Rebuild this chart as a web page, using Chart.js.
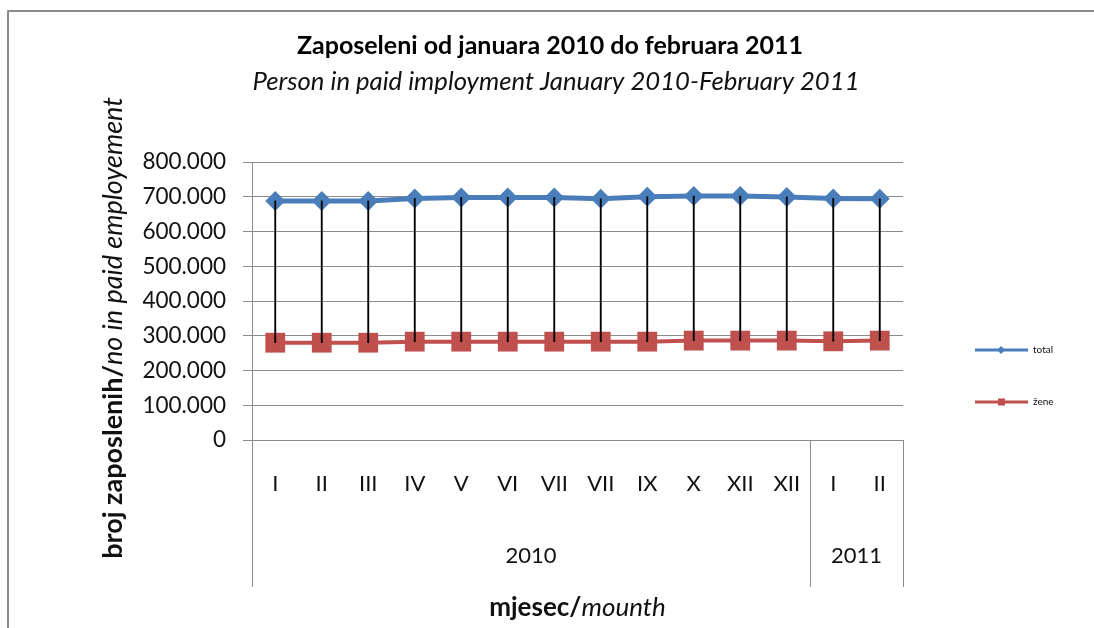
<!DOCTYPE html>
<html>
<head>
<meta charset="utf-8">
<script src="https://cdn.jsdelivr.net/npm/chart.js@4.4.0/dist/chart.umd.min.js"></script>
<style>
html, body { margin: 0; padding: 0; background: #fff; }
</style>
</head>
<body>
<canvas id="employ-chart" width="1094" height="628"></canvas>
<script>
var months = ['I', 'II', 'III', 'IV', 'V', 'VI', 'VII', 'VII', 'IX', 'X', 'XII', 'XII', 'I', 'II'];
var years = ['2010', '2011'];
var yearSpans = [12, 2];

var totalCnt = [688000, 688000, 688000, 695000, 698000, 698000, 698000, 694000, 700000, 702000, 702000, 699000, 695000, 694000];
var zeneCnt = [280000, 280000, 280000, 283000, 283000, 283000, 283000, 283000, 283000, 286000, 286000, 286000, 284000, 286000];

var seriesNames = ['total', 'žene'];
var yMax = 800000;
var yStep = 100000;

var titleText = 'Zaposeleni od januara 2010 do februara 2011';
var subtitleText = 'Person in paid imployment January 2010-February 2011';

var fontFace = 'Lato, "Open Sans", sans-serif';
var gridGray = '#8c8c8c';
var blue = '#4a7ebb';
var red = '#c0504d';

Chart.defaults.font.family = fontFace;
Chart.defaults.color = '#111';

// high-low lines between the two series
var hiLow = totalCnt.map(function(t, i) { return [zeneCnt[i], t]; });

var extraDraw = {
	id: 'extraDraw',
	beforeDraw: function(chart) {
		var ctx = chart.ctx;
		ctx.save();
		ctx.fillStyle = '#fff';
		ctx.fillRect(0, 0, chart.width, chart.height);
		ctx.strokeStyle = '#8c8c8c';
		ctx.lineWidth = 2;
		ctx.strokeRect(8, 11, chart.width + 20, chart.height + 20);
		ctx.restore();
	},
	afterDraw: function(chart) {
		var ctx = chart.ctx;
		var x = chart.scales.x;
		var area = chart.chartArea;
		var boxBottom = area.bottom + 147;

		ctx.save();

		// titles
		ctx.textAlign = 'center';
		ctx.textBaseline = 'middle';
		ctx.fillStyle = '#000';
		ctx.font = 'bold 25px ' + fontFace;
		ctx.fillText(titleText, 550, 46);
		ctx.fillStyle = '#111';
		ctx.font = 'italic 25.7px ' + fontFace;
		ctx.fillText(subtitleText, 556, 82);

		ctx.strokeStyle = gridGray;
		ctx.lineWidth = 1;

		// group separators under the axis
		var edges = [area.left];
		var idx = 0;
		yearSpans.forEach(function(n) {
			idx += n;
			if (idx < months.length) {
				edges.push(Math.round((x.getPixelForValue(idx - 1) + x.getPixelForValue(idx)) / 2));
			} else {
				edges.push(area.right);
			}
		});
		edges.forEach(function(e) {
			var px = Math.round(e) + 0.5;
			ctx.beginPath();
			ctx.moveTo(px, area.bottom);
			ctx.lineTo(px, boxBottom);
			ctx.stroke();
		});

		// year labels
		ctx.fillStyle = '#111';
		ctx.font = '22px ' + fontFace;
		ctx.textAlign = 'center';
		ctx.textBaseline = 'middle';
		years.forEach(function(yr, i) {
			ctx.fillText(yr, (edges[i] + edges[i + 1]) / 2, area.bottom + 116);
		});

		// x axis title
		drawMixed(ctx, 'mjesec/', 'mounth', (area.left + area.right) / 2, area.bottom + 168, 0, 26);

		// y axis title
		drawMixed(ctx, 'broj zaposlenih/', 'no in paid employement', 113, 328, -Math.PI / 2, 27);

		// legend
		var colors = [blue, red];
		var legendY = [350, 402];
		seriesNames.forEach(function(name, i) {
			var ly = legendY[i];
			ctx.strokeStyle = colors[i];
			ctx.lineWidth = 3;
			ctx.beginPath();
			ctx.moveTo(975, ly);
			ctx.lineTo(1028, ly);
			ctx.stroke();
			ctx.fillStyle = colors[i];
			if (i === 0) {
				ctx.beginPath();
				ctx.moveTo(1001, ly - 4);
				ctx.lineTo(1005, ly);
				ctx.lineTo(1001, ly + 4);
				ctx.lineTo(997, ly);
				ctx.closePath();
				ctx.fill();
			} else {
				ctx.fillRect(998, ly - 3.5, 7, 7);
			}
			ctx.fillStyle = '#111';
			ctx.font = '10px ' + fontFace;
			ctx.textAlign = 'left';
			ctx.textBaseline = 'middle';
			ctx.fillText(name, 1033, ly);
		});

		ctx.restore();
	}
};

function drawMixed(ctx, boldPart, italicPart, cx, cy, rot, size) {
	ctx.save();
	ctx.translate(cx, cy);
	ctx.rotate(rot);
	ctx.fillStyle = '#111';
	ctx.textBaseline = 'middle';
	ctx.textAlign = 'left';
	ctx.font = 'bold ' + size + 'px ' + fontFace;
	var w1 = ctx.measureText(boldPart).width;
	ctx.font = 'italic ' + size + 'px ' + fontFace;
	var w2 = ctx.measureText(italicPart).width;
	var start = -(w1 + w2) / 2;
	ctx.font = 'bold ' + size + 'px ' + fontFace;
	ctx.fillText(boldPart, start, 0);
	ctx.font = 'italic ' + size + 'px ' + fontFace;
	ctx.fillText(italicPart, start + w1, 0);
	ctx.restore();
}

var ctx = document.getElementById('employ-chart').getContext('2d');
var myChart = new Chart(ctx, {
	type: 'line',
	data: {
		labels: months,
		datasets: [
			{
				type: 'bar',
				label: 'hi-low',
				data: hiLow,
				backgroundColor: '#000',
				borderWidth: 0,
				barThickness: 1.2,
				order: 0
			},
			{
				label: seriesNames[0],
				data: totalCnt,
				borderColor: blue,
				backgroundColor: blue,
				borderWidth: 5,
				pointStyle: 'rectRot',
				pointRadius: 10,
				pointBorderWidth: 0,
				tension: 0,
				order: 1
			},
			{
				label: seriesNames[1],
				data: zeneCnt,
				borderColor: red,
				backgroundColor: red,
				borderWidth: 4,
				pointStyle: 'rect',
				pointRadius: 14,
				pointBorderWidth: 0,
				tension: 0,
				order: 2
			}
		]
	},
	options: {
		responsive: false,
		animation: false,
		layout: {
			padding: { left: 130, right: 191, top: 162, bottom: 0 }
		},
		plugins: {
			legend: { display: false },
			tooltip: { enabled: false }
		},
		scales: {
			x: {
				offset: true,
				grid: { display: false, drawTicks: false },
				border: { display: true, color: gridGray },
				ticks: {
					autoSkip: false,
					maxRotation: 0,
					padding: 31,
					color: '#111',
					font: { size: 22 }
				},
				afterFit: function(scale) { scale.height = 188; }
			},
			y: {
				min: 0,
				max: yMax,
				grid: { color: gridGray, tickLength: 9 },
				border: { color: gridGray },
				ticks: {
					stepSize: yStep,
					padding: 17,
					color: '#111',
					font: { size: 22.5 },
					callback: function(v) { return v.toLocaleString('de-DE'); }
				},
				afterFit: function(scale) { scale.width = 122; }
			}
		}
	},
	plugins: [extraDraw]
});
</script>
</body>
</html>
